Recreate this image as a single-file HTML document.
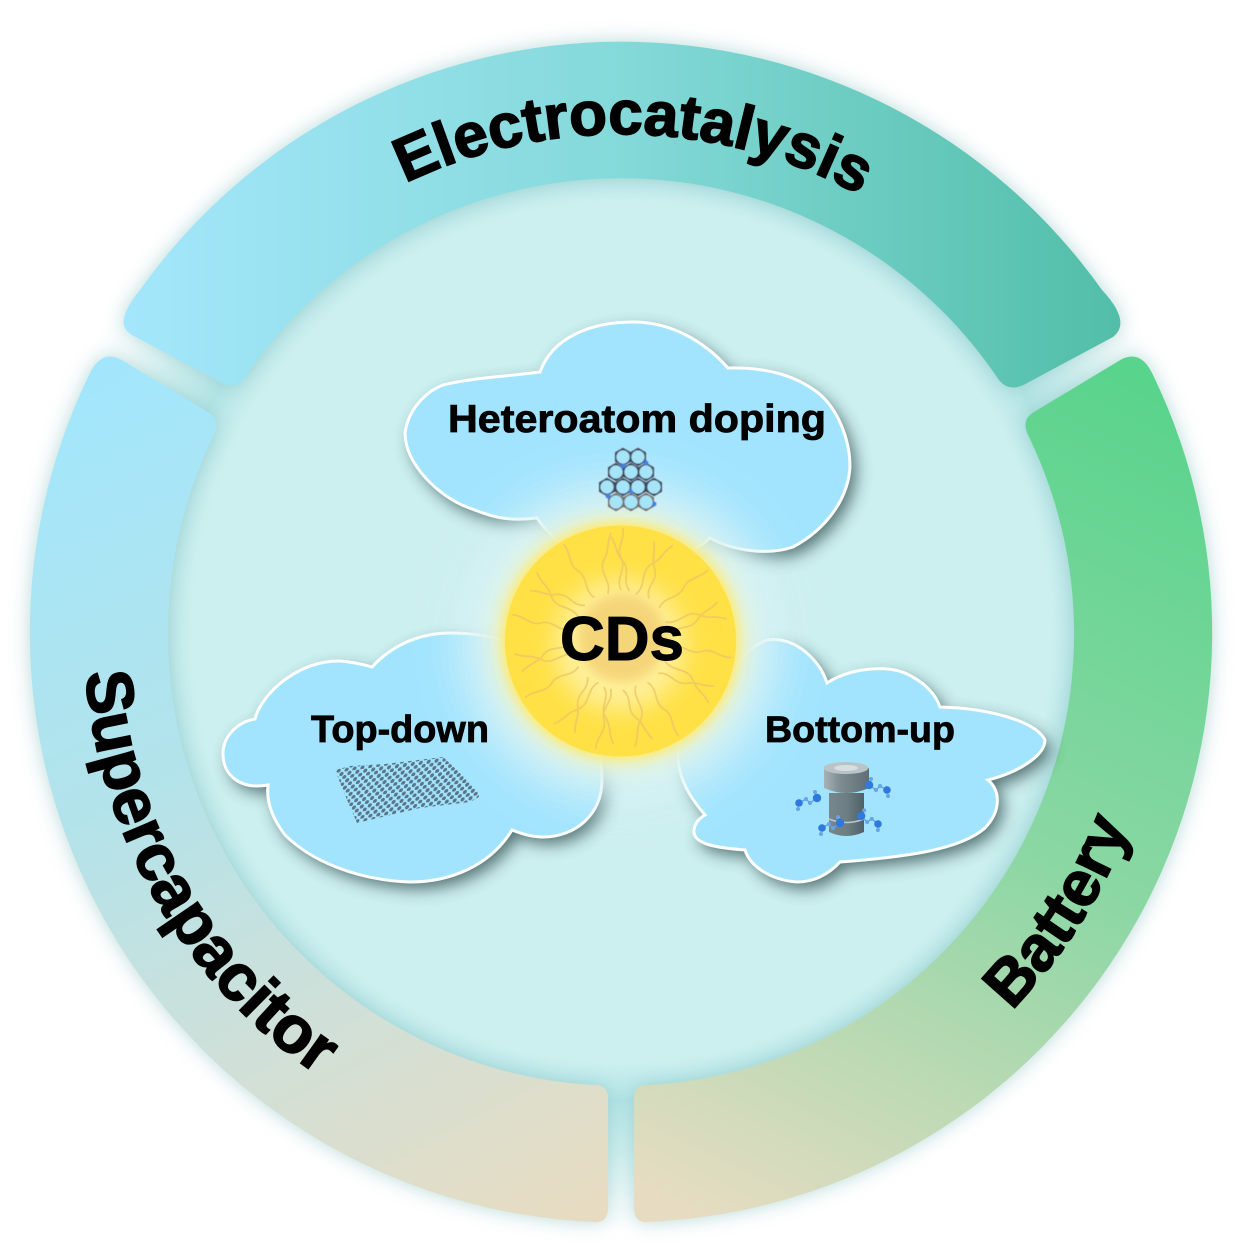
<!DOCTYPE html>
<html><head><meta charset="utf-8"><style>
html,body{margin:0;padding:0;background:#fff}
svg{display:block}
text{font-family:"Liberation Sans",sans-serif;font-weight:bold;fill:#000;stroke:#000;paint-order:stroke}
</style></head><body>
<svg width="1249" height="1260" viewBox="0 0 1249 1260" xmlns="http://www.w3.org/2000/svg">
<defs>
<radialGradient id="disc" gradientUnits="userSpaceOnUse" cx="621" cy="632" r="600">
<stop offset="0" stop-color="#ccefef"/><stop offset=".72" stop-color="#ccefef"/><stop offset=".78" stop-color="#b4e5e6"/><stop offset=".86" stop-color="#cdeeee"/><stop offset=".95" stop-color="#f4fbfb"/><stop offset="1" stop-color="#fff"/>
</radialGradient>
<linearGradient id="gt" gradientUnits="userSpaceOnUse" x1="122" y1="250" x2="1120" y2="250"><stop offset="0" stop-color="#a4e7fc"/><stop offset=".5" stop-color="#84d9d9"/><stop offset="1" stop-color="#52bea8"/></linearGradient>
<linearGradient id="gr" gradientUnits="userSpaceOnUse" x1="1120" y1="370" x2="700" y2="1220"><stop offset="0" stop-color="#59d48c"/><stop offset=".5" stop-color="#8bd7a4"/><stop offset="1" stop-color="#e7dcc2"/></linearGradient>
<linearGradient id="gl" gradientUnits="userSpaceOnUse" x1="120" y1="370" x2="560" y2="1220"><stop offset="0" stop-color="#a3e6fc"/><stop offset=".4" stop-color="#b3e3ea"/><stop offset=".7" stop-color="#d0e0d8"/><stop offset="1" stop-color="#e7dcc2"/></linearGradient>
<filter id="bandS" x="-15%" y="-15%" width="130%" height="130%"><feGaussianBlur stdDeviation="10"/></filter>
<filter id="cs" x="-15%" y="-15%" width="130%" height="135%"><feGaussianBlur stdDeviation="8"/></filter>
<filter id="g1" x="-50%" y="-50%" width="200%" height="200%"><feGaussianBlur stdDeviation="22"/></filter>
<filter id="g2" x="-30%" y="-30%" width="160%" height="160%"><feGaussianBlur stdDeviation="6"/></filter>
<filter id="g3" x="-50%" y="-50%" width="200%" height="200%"><feGaussianBlur stdDeviation="12"/></filter>
<filter id="g4" x="-50%" y="-50%" width="200%" height="200%"><feGaussianBlur stdDeviation="5"/></filter>
<filter id="soft" x="-10%" y="-10%" width="120%" height="120%"><feGaussianBlur stdDeviation=".6"/></filter>
<pattern id="dots" width="8" height="7" patternUnits="userSpaceOnUse" patternTransform="rotate(-8) skewX(-25)">
<circle cx="2" cy="2" r="2" fill="#5a7488"/><circle cx="6" cy="5.5" r="2" fill="#5a7488"/>
</pattern>
<path id="pTop" d="M196.4 371.8A498 498 0 0 1 1058.6 394.4"/>
<path id="pLeft" d="M92.2 538.8A537 537 0 0 0 437.3 1136.6"/>
<path id="pRight" d="M893 1103A544 544 0 0 0 1163 679.4"/>
<path id="bT" d="M140 290A590 590 0 0 1 1102 290Q1132 322 1113 337L1029 382Q1010 394 999 380A455 455 0 0 0 243 380Q232 392 213 378L132 335Q112 324 140 290Z"/>
<path id="bL" d="M90 373Q103 347 125 362L208 412Q222 420 213 437A452 452 0 0 0 593 1085Q608 1084 608 1098L608 1208Q608 1223 594 1222A590 590 0 0 1 90 373Z"/>
<path id="bR" d="M1152 373Q1139 347 1117 362L1034 412Q1020 420 1029 437A452 452 0 0 1 649 1085Q634 1084 634 1098L634 1208Q634 1223 648 1222A590 590 0 0 0 1152 373Z"/>
<path id="c1" d="M540 372C552 338 590 322 633 322C672 322 705 342 728 368C770 367 797 377 817 392C838 408 850 440 850 467C848 500 825 530 793 547C770 555 735 552 710 538C695 552 665 565 625 565C590 565 555 545 537 518C505 522 490 516 467 507C440 497 405 465 405 433C408 410 425 392 443 385C470 378 510 376 540 372Z"/>
<path id="c2" d="M372 667C392 645 420 633 450 633C475 633 490 636 510 642C560 660 602 720 602 780C602 815 575 837 543 837C532 837 522 834 512 830C490 866 450 882 410 882C355 880 310 860 285 835C272 818 266 802 268 785C240 790 222 775 223 752C224 735 238 722 255 719C262 692 300 660 340 661C352 662 362 664 372 667Z"/>
<path id="c3" d="M827 683C850 668 885 665 905 673C925 682 936 695 940 707C985 708 1035 720 1045 740C1045 755 1020 772 988 780C1000 790 1002 810 985 828C960 850 905 857 840 862C825 878 810 882 797 882C770 880 750 866 745 850C720 848 692 845 694 830C695 822 700 818 705 815C688 795 676 775 678 747C680 725 705 715 728 700C725 680 740 650 767 640C795 636 820 660 827 683Z"/>
<polygon id="hex" points="0,-9.2 8,-4.6 8,4.6 0,9.2 -8,4.6 -8,-4.6"/>
<g id="t1"><path d="M0 -50C-6 -62 6 -70 0 -82C-5 -92 4 -100 2 -112" fill="none"/></g>
<g id="t2"><path d="M0 -48C8 -60 -4 -72 6 -82C14 -90 12 -96 20 -106" fill="none"/></g>
<g id="t3"><path d="M0 -50C-10 -58 -2 -70 -12 -78C-20 -84 -20 -92 -28 -100" fill="none"/></g>
<g id="mol"><path d="M0 0L7 -4L11 0L18 -5" stroke="#5d9fe4" stroke-width="1.3" fill="none"/><circle cx="0" cy="0" r="3.8" fill="#2f78dc"/><circle cx="7" cy="-4" r="2" fill="#68a4e6"/><circle cx="11" cy="0" r="2" fill="#68a4e6"/><circle cx="18" cy="-5" r="4.2" fill="#2f78dc"/><circle cx="16" cy="-11" r="2" fill="#68a4e6"/><circle cx="-1" cy="6" r="2" fill="#68a4e6"/></g>
<linearGradient id="cyl" x1="0" x2="1" y1="0" y2="0"><stop offset="0" stop-color="#a7b2b6"/><stop offset=".35" stop-color="#7e8d92"/><stop offset="1" stop-color="#5e6e74"/></linearGradient>
<linearGradient id="cyl2" x1="0" x2="1" y1="0" y2="0"><stop offset="0" stop-color="#76888d"/><stop offset=".5" stop-color="#6d7e84"/><stop offset="1" stop-color="#4f6067"/></linearGradient>
<clipPath id="cdClip"><circle cx="620.5" cy="641" r="115.5"/></clipPath>
</defs>

<rect width="1249" height="1260" fill="#fff"/>
<circle cx="621" cy="632" r="600" fill="url(#disc)"/>

<g filter="url(#bandS)" fill="#7fb8b8" opacity=".5"><use href="#bT"/><use href="#bL"/><use href="#bR"/></g>
<use href="#bT" fill="url(#gt)"/>
<use href="#bL" fill="url(#gl)"/>
<use href="#bR" fill="url(#gr)"/>

<g filter="url(#cs)" fill="#2f4a4c" opacity=".75" transform="translate(6,7)"><use href="#c1"/><use href="#c2"/><use href="#c3"/></g>
<g fill="#a2e4fe" stroke="#fff" stroke-width="3"><use href="#c1"/><use href="#c2"/><use href="#c3"/></g>

<circle cx="620.5" cy="641" r="160" fill="#d8f3f6" opacity=".95" filter="url(#g1)"/>
<circle cx="620.5" cy="641" r="124" fill="#f8f2ac" opacity=".9" filter="url(#g3)"/>
<circle cx="620.5" cy="641" r="117" fill="#ffe85a" filter="url(#g2)"/>
<circle cx="620.5" cy="641" r="115.5" fill="#ffe045"/>
<circle cx="620" cy="645" r="66" fill="#fff3a8" opacity=".85" filter="url(#g3)"/>
<circle cx="622" cy="638" r="44" fill="#f5d377" opacity=".9" filter="url(#g4)"/>

<g clip-path="url(#cdClip)" stroke="#edc766" stroke-width="1.8" opacity=".8">
<use href="#t1" transform="translate(621,640) rotate(0)"/><use href="#t2" transform="translate(621,640) rotate(18)"/><use href="#t3" transform="translate(621,640) rotate(34)"/><use href="#t1" transform="translate(621,640) rotate(50)"/><use href="#t2" transform="translate(621,640) rotate(68)"/><use href="#t3" transform="translate(621,640) rotate(84)"/><use href="#t1" transform="translate(621,640) rotate(98)"/><use href="#t2" transform="translate(621,640) rotate(115)"/><use href="#t3" transform="translate(621,640) rotate(132)"/><use href="#t1" transform="translate(621,640) rotate(148)"/><use href="#t2" transform="translate(621,640) rotate(162)"/><use href="#t3" transform="translate(621,640) rotate(178)"/><use href="#t1" transform="translate(621,640) rotate(192)"/><use href="#t2" transform="translate(621,640) rotate(208)"/><use href="#t3" transform="translate(621,640) rotate(222)"/><use href="#t1" transform="translate(621,640) rotate(238)"/><use href="#t2" transform="translate(621,640) rotate(252)"/><use href="#t3" transform="translate(621,640) rotate(268)"/><use href="#t1" transform="translate(621,640) rotate(282)"/><use href="#t2" transform="translate(621,640) rotate(298)"/><use href="#t3" transform="translate(621,640) rotate(314)"/><use href="#t1" transform="translate(621,640) rotate(328)"/><use href="#t2" transform="translate(621,640) rotate(344)"/><use href="#t3" transform="translate(621,640) rotate(10)"/><use href="#t3" transform="translate(621,640) rotate(200)"/>
</g>

<g filter="url(#soft)">
<g fill="#44465c">
<use href="#hex" x="623" y="457"/><use href="#hex" x="638" y="457"/>
<use href="#hex" x="616" y="472"/><use href="#hex" x="631" y="472"/><use href="#hex" x="646" y="472"/>
<use href="#hex" x="607" y="487"/><use href="#hex" x="623" y="487"/><use href="#hex" x="638" y="487"/><use href="#hex" x="654" y="487"/>
<use href="#hex" x="616" y="502" fill="#77706e"/><use href="#hex" x="631" y="502" fill="#77706e"/><use href="#hex" x="646" y="502" fill="#77706e"/>
</g>
<g fill="#3f7fe8"><circle cx="623" cy="466" r="2.4"/><circle cx="646" cy="463" r="2.4"/><circle cx="631" cy="491" r="2.4"/><circle cx="608" cy="496" r="2.4"/><circle cx="654" cy="504" r="2.4"/></g>
<g fill="#a6e4f8">
<circle cx="623" cy="457" r="6.6"/><circle cx="638" cy="457" r="6.6"/>
<circle cx="616" cy="472" r="6.6"/><circle cx="631" cy="472" r="6.6"/><circle cx="646" cy="472" r="6.6"/>
<circle cx="607" cy="487" r="6.6"/><circle cx="623" cy="487" r="6.6"/><circle cx="638" cy="487" r="6.6"/><circle cx="654" cy="487" r="6.6"/>
<circle cx="616" cy="502" r="6.6"/><circle cx="631" cy="502" r="6.6"/><circle cx="646" cy="502" r="6.6"/>
</g>
</g>

<polygon points="335,770 350,766 385,764 443,757 478,790 479,797 470,802 420,808 357,823 345,795" fill="url(#dots)"/>

<path d="M829 793H864V832Q846 840 829 832Z" fill="url(#cyl2)"/>
<path d="M824 768H869V788Q846 798 824 788Z" fill="url(#cyl)"/>
<ellipse cx="846" cy="768" rx="22.5" ry="6" fill="#b9c4c7"/>
<ellipse cx="846" cy="768" rx="12" ry="3" fill="#d8dee0"/>
<path d="M829 819Q846 826 864 819" stroke="#b8c6c9" stroke-width="1.5" fill="none"/>
<use href="#mol" transform="translate(799,803)"/>
<use href="#mol" transform="translate(887,790) scale(-1,1)"/>
<use href="#mol" transform="translate(822,828)"/>
<use href="#mol" transform="translate(878,824) scale(-1,1) rotate(-10)"/>

<text x="637" y="432" font-size="39" stroke-width=".8" text-anchor="middle" textLength="378" lengthAdjust="spacingAndGlyphs">Heteroatom doping</text>
<text x="400" y="742" font-size="38" stroke-width=".8" text-anchor="middle" textLength="178" lengthAdjust="spacingAndGlyphs">Top-down</text>
<text x="860" y="742" font-size="37" stroke-width=".8" text-anchor="middle" textLength="190" lengthAdjust="spacingAndGlyphs">Bottom-up</text>
<text x="622" y="660" font-size="62" stroke-width="1" text-anchor="middle">CDs</text>

<text font-size="62" stroke-width="1.6" text-anchor="middle"><textPath href="#pTop" startOffset="50%">Electrocatalysis</textPath></text>
<text font-size="66" stroke-width="1.6" text-anchor="middle"><textPath href="#pLeft" startOffset="50%">Supercapacitor</textPath></text>
<text font-size="64" stroke-width="1.6" text-anchor="middle"><textPath href="#pRight" startOffset="50%">Battery</textPath></text>
</svg>
</body></html>
